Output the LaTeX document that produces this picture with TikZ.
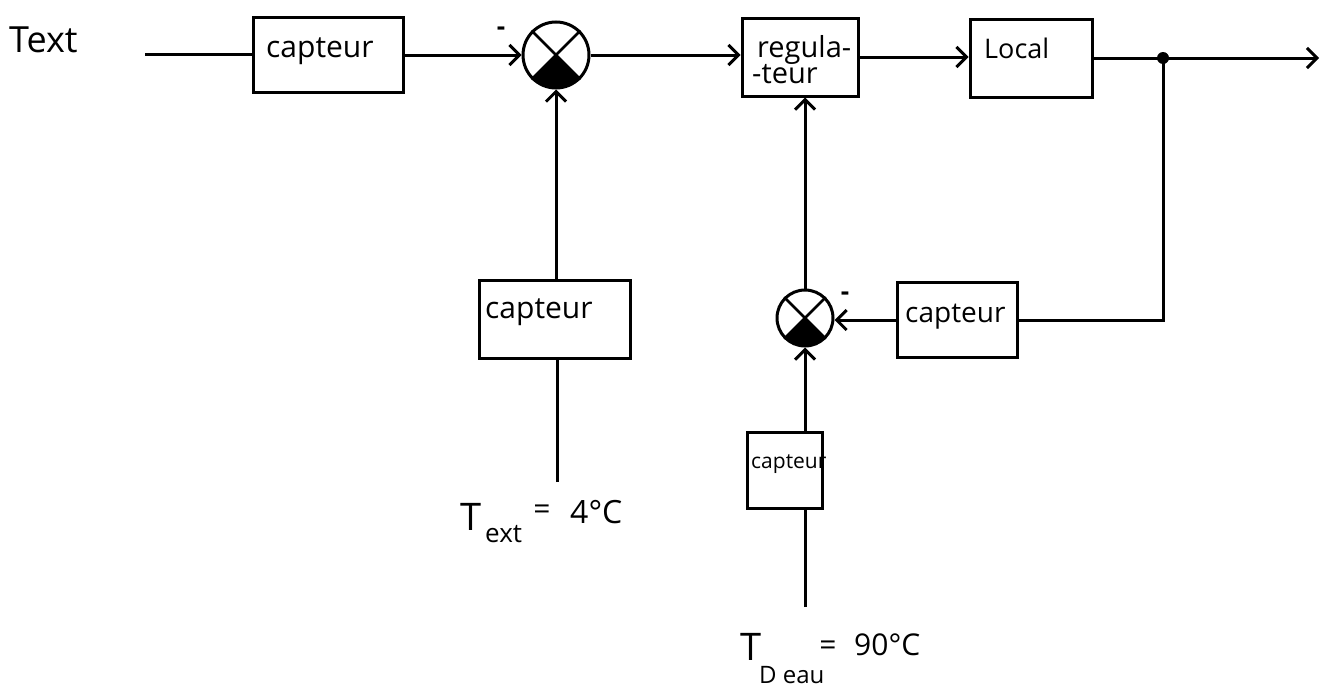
\documentclass[tikz,border=0pt]{standalone}
\usepackage{fontspec}
\setmainfont{Open Sans}
\usetikzlibrary{arrows.meta,calc}
\begin{document}
\begin{tikzpicture}[x=1pt,y=-1pt,
  blk/.style={draw,line width=3pt,inner sep=0pt},
  conn/.style={line width=3pt},
  arr/.style={conn,-{Straight Barb[length=10pt,width=20pt,line width=3pt]}},
  sumj/.style={draw,circle,line width=3pt,inner sep=0pt},
  txt/.style={inner sep=0pt,anchor=base west},
  sgn/.style={inner sep=0pt,font=\fontsize{26}{26}\bfseries\selectfont}]
\useasboundingbox (0,0) rectangle (1323,688);

% blocks
\node[blk,minimum width=150pt,minimum height=75pt] (c1) at (328.5,55) {};
\node[txt,font=\fontsize{30}{30}\selectfont] (c1t) at (266,57) {capteur};
\node[blk,minimum width=116pt,minimum height=78pt] (reg) at (800,57) {};
\node[txt,font=\fontsize{29}{29}\selectfont] (regt1) at (757,57) {regula-};
\node[txt,font=\fontsize{29}{29}\selectfont] (regt2) at (752,83) {-teur};
\node[blk,minimum width=122pt,minimum height=78pt] (loc) at (1031,58) {};
\node[txt,font=\fontsize{27}{27}\selectfont] (loct) at (984,58) {Local};
\node[blk,minimum width=120pt,minimum height=75pt] (c3) at (957,320) {};
\node[txt,font=\fontsize{28}{28}\selectfont] (c3t) at (905,322) {capteur};
\node[blk,minimum width=151pt,minimum height=78pt] (c2) at (554.5,319) {};
\node[txt,font=\fontsize{30}{30}\selectfont] (c2t) at (485,318) {capteur};
\node[blk,minimum width=75pt,minimum height=76pt] (c4) at (784.5,470) {};
\node[txt,font=\fontsize{21}{21}\selectfont] (c4t) at (751,468) {capteur};

% summing junctions
\node[sumj,minimum size=66pt] (s1) at (556,55) {};
\node[sumj,minimum size=56pt] (s2) at (805,318) {};
\foreach \s/\r in {s1/33,s2/28}{
  \begin{scope}
    \clip (\s.center) circle[radius=\r];
    \fill (\s.center) -- ++(-60,60) -- ++(120,0) -- cycle;
  \end{scope}
  \draw[line width=2.5pt] (\s.45) -- (\s.-135) (\s.135) -- (\s.-45);
}
\node[sgn] (m1) at (501,31) {-};
\node[sgn] (m2) at (845,296) {-};

% coordinates
\coordinate (in) at (145,54);
\coordinate (dot) at (1163,58);
\coordinate (out) at (1319,58);
\coordinate (t1) at (557,482);
\coordinate (t2) at (805,607);

% connectors
\draw[conn] (in) -- (in -| c1.west);
\draw[arr] (c1.east) -- (s1.west);
\draw[arr] (s1.east) -- (s1.east -| reg.west);
\draw[arr] (reg.east) -- (reg.east -| loc.west);
\draw[conn] (loc.east) -- (dot);
\draw[arr] (dot) -- (out);
\fill (dot) circle[radius=6pt];
\draw[conn] (dot) |- (c3.east);
\draw[arr] (c3.west) -- (c3.west -| s2.east);
\draw[arr] (s2.north) -- (s2.north |- reg.south);
\draw[arr] (c4.north -| s2.south) -- (s2.south);
\draw[conn] (t2) -- (t2 |- c4.south);
\draw[arr] (c2.north -| s1.south) -- (s1.south);
\draw[conn] (t1) -- (t1 |- c2.south);

% labels
\node[txt,font=\fontsize{36}{36}\selectfont] (ltext) at (9,52) {Text};
\node[txt,font=\fontsize{38}{38}\selectfont] (l1T) at (460,530) {T};
\node[txt,font=\fontsize{26}{26}\selectfont] (l1s) at (485,542) {ext};
\node[inner sep=0pt,font=\fontsize{30}{30}\selectfont] (l1e) at (542,512) {=};
\node[txt,font=\fontsize{32}{32}\selectfont] (l1v) at (570,523) {4°C};
\node[txt,font=\fontsize{38}{38}\selectfont] (l2T) at (740,660) {T};
\node[txt,font=\fontsize{24}{24}\selectfont] (l2s) at (759,683) {D eau};
\node[inner sep=0pt,font=\fontsize{30}{30}\selectfont] (l2e) at (828,648) {=};
\node[txt,font=\fontsize{30}{30}\selectfont] (l2v) at (854,655) {90°C};
\end{tikzpicture}
\end{document}
